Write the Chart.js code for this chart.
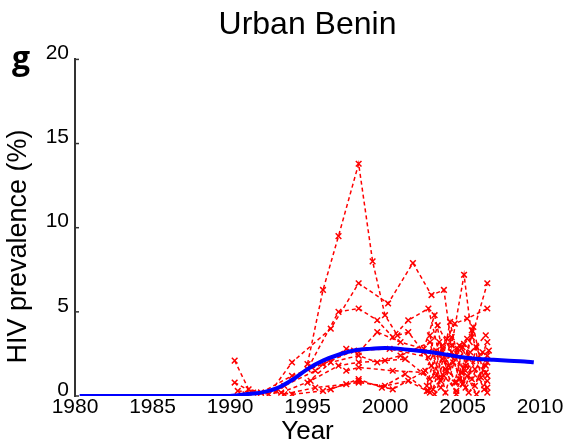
<!DOCTYPE html>
<html>
<head>
<meta charset="utf-8">
<script src="https://cdn.jsdelivr.net/npm/chart.js@4"></script>
<style>
  html, body { margin: 0; padding: 0; background: #fff; }
  #wrap { width: 565px; height: 445px; }
</style>
</head>
<body>
<div id="wrap"><canvas id="benin"></canvas></div>
<script>
// fitted epidemic curve (blue)
var fitYears = [1980.3, 1985, 1990, 1990.5, 1991, 1992, 1993, 1994, 1995, 1996, 1997, 1998, 1999, 2000, 2001, 2002, 2003, 2004, 2005, 2006, 2007, 2008, 2009, 2009.6];
var fitPrev = [0, 0, 0, 0.05, 0.1, 0.2, 0.45, 0.95, 1.6, 2.1, 2.45, 2.7, 2.8, 2.85, 2.8, 2.7, 2.6, 2.45, 2.3, 2.2, 2.15, 2.1, 2.05, 2.0];

// antenatal clinic sites (red), one list per site
var siteYears = [
  [1995.0, 1996.0, 1997.0, 1998.3, 1999.2, 2000.0, 2000.8, 2001.5, 2002.5, 2003.3, 2004.2, 2005.2, 2006.3],
  [1990.3, 1991.2, 1992.5, 1994.0, 1996.5, 1998.3, 2000.2, 2001.8, 2003.0, 2003.8, 2004.3, 2005.1, 2005.6, 2006.6],
  [1990.3, 1991.5, 1993.0, 1995.0, 1997.0, 1998.3, 1999.5, 2000.5, 2001.5, 2002.8, 2003.5, 2004.5, 2005.3, 2006.6],
  [1990.5, 1992.0, 1993.5, 1995.5, 1997.5, 1998.3, 1999.5, 2001.0, 2002.5, 2003.2, 2004.0, 2004.8, 2005.6, 2006.6],
  [1991.0, 1993.3, 1995.2, 1997.0, 1998.3, 2000.0, 2001.3, 2002.9, 2003.7, 2004.6, 2005.4, 2006.5],
  [1993.5, 1995.5, 1997.5, 1998.3, 2000.0, 2001.5, 2002.9, 2003.8, 2004.6, 2005.2, 2006.6],
  [1994.0, 1996.0, 1998.3, 2000.5, 2002.6, 2003.5, 2004.1, 2005.0, 2005.8, 2006.6],
  [1995.0, 1996.5, 1998.3, 1999.5, 2001.0, 2002.9, 2003.6, 2004.4, 2005.4, 2006.5],
  [1992.0, 1994.0, 1996.0, 1998.0, 2000.3, 2002.8, 2003.4, 2004.3, 2005.3, 2006.6],
  [1997.5, 1998.3, 2000.5, 2002.5, 2003.1, 2004.0, 2004.8, 2005.7, 2006.6],
  [2002.9, 2003.5, 2004.2, 2004.9, 2005.5, 2006.5],
  [2002.7, 2003.3, 2003.9, 2004.7, 2005.2, 2005.9, 2006.6],
  [2003.0, 2003.6, 2004.3, 2005.0, 2005.6, 2006.2, 2006.7],
  [2002.8, 2003.7, 2004.5, 2005.1, 2005.8, 2006.4],
  [1996.5, 1998.3, 1999.8, 2001.3, 2002.7],
  [2003.2, 2003.9, 2004.6, 2005.3, 2005.9, 2006.6]
];
var sitePrev = [
  [1.9, 6.3, 9.5, 13.8, 8.0, 4.8, 3.6, 3.8, 2.6, 1.2, 2.4, 1.5, 2.6],
  [2.1, 0.4, 0.1, 2.0, 4.0, 6.7, 5.5, 7.9, 6.0, 6.3, 3.0, 7.2, 3.5, 6.7],
  [0.8, 0.2, 0.3, 1.6, 5.0, 5.2, 4.5, 3.5, 4.5, 5.2, 2.5, 4.3, 4.6, 5.2],
  [0.3, 0.2, 0.6, 1.5, 2.8, 2.6, 3.8, 3.2, 2.8, 4.8, 1.5, 3.0, 1.0, 3.2],
  [0.1, 0.2, 0.9, 1.8, 2.0, 2.1, 2.2, 1.0, 2.2, 0.8, 2.2, 1.4],
  [0.1, 0.5, 0.7, 0.8, 0.6, 0.9, 0.2, 1.2, 0.3, 1.8, 0.5],
  [0.1, 0.3, 0.9, 0.4, 1.5, 3.2, 1.8, 2.9, 0.6, 2.4],
  [0.8, 2.0, 2.4, 2.0, 2.4, 3.2, 0.5, 2.0, 0.2, 1.8],
  [0.2, 1.2, 1.9, 2.7, 2.8, 2.3, 4.2, 2.6, 3.4, 2.0],
  [1.5, 1.7, 1.5, 1.4, 0.4, 3.4, 1.0, 4.1, 0.2],
  [3.6, 1.1, 4.4, 1.4, 2.6, 3.6],
  [0.6, 2.7, 0.2, 2.8, 0.5, 2.9, 1.2],
  [1.8, 0.9, 3.5, 0.7, 3.9, 1.1, 2.7],
  [0.3, 3.0, 0.8, 3.1, 1.6, 0.4],
  [0.4, 1.0, 0.5, 1.3, 0.3],
  [0.1, 1.6, 0.1, 1.2, 0.1, 0.9]
];

var xTicks = [1980, 1985, 1990, 1995, 2000, 2005, 2010];
var yTicks = [0, 5, 10, 15, 20];

var FONT = "'Liberation Sans', Arial, sans-serif";

function toPoints(xs, ys) {
  var pts = [];
  for (var i = 0; i < xs.length; i++) {
    pts.push({ x: xs[i], y: ys[i] });
  }
  return pts;
}

var datasets = [];
datasets.push({
  label: "Model fit",
  data: toPoints(fitYears, fitPrev),
  showLine: true,
  borderColor: "rgb(0,0,255)",
  borderWidth: 4,
  pointRadius: 0,
  cubicInterpolationMode: "monotone",
  order: 0
});
for (var s = 0; s < siteYears.length; s++) {
  datasets.push({
    label: "Site " + (s + 1),
    data: toPoints(siteYears[s], sitePrev[s]),
    showLine: true,
    borderColor: "rgb(255,0,0)",
    borderWidth: 1.5,
    borderDash: [4, 3],
    pointStyle: "crossRot",
    pointRadius: 4,
    pointBorderWidth: 1.5,
    pointBorderColor: "rgb(255,0,0)",
    order: 1
  });
}

// panel letter and small inward ticks on the y axis
var extras = {
  id: "extras",
  afterDraw: function (chart) {
    var c = chart.ctx;
    var ys = chart.scales.y;
    c.save();
    c.strokeStyle = "#333";
    c.lineWidth = 1.5;
    yTicks.forEach(function (v) {
      var py = ys.getPixelForValue(v);
      c.beginPath();
      c.moveTo(ys.right, py);
      c.lineTo(ys.right + 4, py);
      c.stroke();
    });
    c.fillStyle = "#000";
    c.font = "bold 32px 'Open Sans', sans-serif";
    c.textBaseline = "alphabetic";
    c.fillText("g", 12, 69);
    c.restore();
  }
};

var ctx = document.getElementById("benin").getContext("2d");
var chart = new Chart(ctx, {
  type: "scatter",
  data: { datasets: datasets },
  options: {
    responsive: true,
    maintainAspectRatio: false,
    animation: false,
    layout: { padding: { left: 0, right: 25, top: 0, bottom: 0 } },
    plugins: {
      legend: { display: false },
      tooltip: { enabled: false },
      title: {
        display: true,
        fullSize: false,
        text: "Urban Benin",
        color: "#000",
        font: { family: FONT, size: 32, weight: "normal", lineHeight: 1.2 },
        padding: { top: 6, bottom: 15 }
      }
    },
    scales: {
      x: {
        type: "linear",
        min: 1980,
        max: 2010,
        afterFit: function (scale) { scale.height = 49; },
        afterBuildTicks: function (scale) {
          scale.ticks = xTicks.map(function (v) { return { value: v }; });
        },
        grid: { display: false },
        border: { display: false },
        ticks: {
          color: "#000",
          padding: -9,
          font: { family: FONT, size: 21 },
          callback: function (v) { return String(v); }
        },
        title: {
          display: true,
          text: "Year",
          color: "#000",
          font: { family: FONT, size: 26, lineHeight: 1 },
          padding: 0
        }
      },
      y: {
        type: "linear",
        min: 0,
        max: 20,
        afterFit: function (scale) { scale.width = 75; },
        afterBuildTicks: function (scale) {
          scale.ticks = yTicks.map(function (v) { return { value: v }; });
        },
        grid: { display: false, drawTicks: false },
        border: { display: true, color: "#333", width: 2 },
        ticks: {
          color: "#000",
          padding: 6,
          labelOffset: -6,
          font: { family: FONT, size: 21 }
        },
        title: {
          display: true,
          text: "HIV prevalence (%)     ",
          color: "#000",
          font: { family: FONT, size: 27, lineHeight: 1.2 },
          padding: { top: 2, bottom: 0 }
        }
      }
    }
  },
  plugins: [extras]
});
</script>
</body>
</html>
